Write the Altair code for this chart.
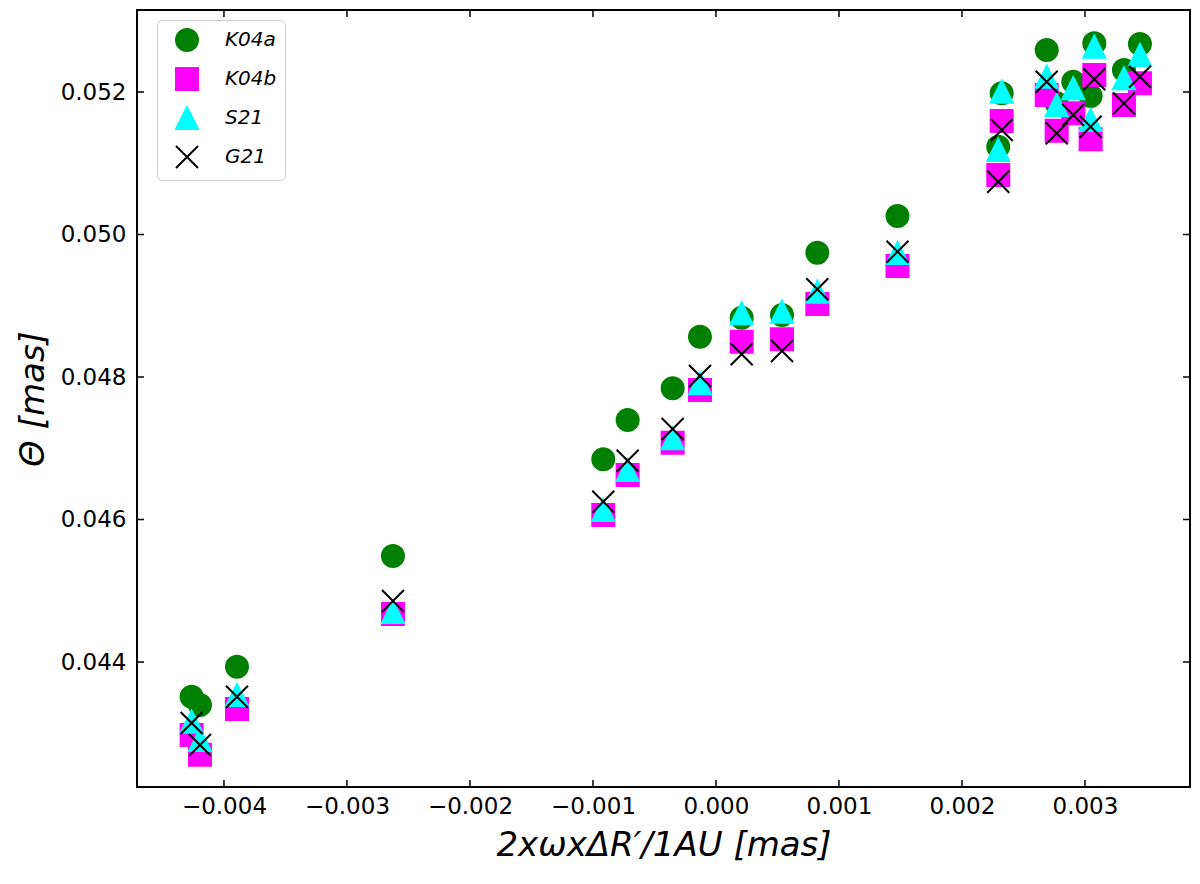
import altair as alt
import pandas as pd

# ---- data ----
series_names = ["K04a", "K04b", "S21", "G21"]

xs = [-0.004263, -0.004195, -0.003894, -0.002626, -0.000916, -0.000718, -0.000352,
      -0.000130, 0.000209, 0.000537, 0.000824, 0.001476, 0.002323, 0.002295,
      0.002689, 0.002770, 0.002905, 0.003076, 0.003046, 0.003317, 0.003447]

k04a = [0.043513, 0.043396, 0.043934, 0.045488, 0.046845, 0.047396, 0.047841,
        0.048566, 0.048832, 0.048870, 0.049745, 0.050260, 0.051982, 0.051232,
        0.052589, 0.051841, 0.052145, 0.052684, 0.051944, 0.052309, 0.052674]
k04b = [0.042975, 0.042699, 0.043340, 0.044674, 0.046063, 0.046625, 0.047078,
        0.047818, 0.048495, 0.048529, 0.049025, 0.049558, 0.051593, 0.050835,
        0.051958, 0.051457, 0.051701, 0.052239, 0.051336, 0.051818, 0.052122]
s21 = [0.043162, 0.042905, 0.043537, 0.044702, 0.046133, 0.046695, 0.047140,
       0.047911, 0.048894, 0.048916, 0.049197, 0.049740, 0.052005, 0.051186,
       0.052215, 0.051818, 0.052052, 0.052636, 0.051607, 0.052192, 0.052519]
g21 = [0.043144, 0.042835, 0.043513, 0.044856, 0.046250, 0.046825, 0.047270,
       0.048014, 0.048319, 0.048365, 0.049231, 0.049759, 0.051467, 0.050741,
       0.052145, 0.051420, 0.051677, 0.052178, 0.051513, 0.051841, 0.052215]

x_ticks = [-0.004, -0.003, -0.002, -0.001, 0.0, 0.001, 0.002, 0.003]
y_ticks = [0.044, 0.046, 0.048, 0.050, 0.052]

x_domain = [-0.004707, 0.003854]
y_domain = [0.042246, 0.053151]

X_TITLE = "2xωxΔR′/1AU [mas]"
Y_TITLE = "Θ [mas]"

rows = []
for name, vals in zip(series_names, [k04a, k04b, s21, g21]):
    for xv, yv in zip(xs, vals):
        rows.append({"x": xv, "y": yv, "series": name})
df = pd.DataFrame(rows)

W, H = 1053, 777
TL = 7  # tick length

xsc = alt.Scale(domain=x_domain, nice=False, zero=False)
ysc = alt.Scale(domain=y_domain, nice=False, zero=False)

x_axis = alt.Axis(values=x_ticks, format=".3f", title=X_TITLE, grid=False, ticks=False,
                  domain=False, labelFontSize=23, labelPadding=8, labelOverlap=False,
                  labelFlush=False, titleFontSize=34, titleFontStyle="italic",
                  titleFontWeight="normal", titlePadding=10)
y_axis = alt.Axis(values=y_ticks, format=".3f", title=Y_TITLE, grid=False, ticks=False,
                  domain=False, labelFontSize=23, labelPadding=11, labelOverlap=False,
                  labelFlush=False, titleFontSize=34, titleFontStyle="italic",
                  titleFontWeight="normal", titlePadding=10)

shapes = ["circle", "square", "M0,-1L-1,1L1,1Z", "M-1,-1L1,1M-1,1L1,-1"]
fills = ["#008000", "#ff00ff", "#00ffff", "transparent"]
strokes = ["#008000", "#ff00ff", "#00ffff", "#000000"]
sizes = [484, 484, 529, 441]

points = alt.Chart(df).mark_point(strokeWidth=2, opacity=1, fillOpacity=1).encode(
    x=alt.X("x:Q", scale=xsc, axis=x_axis),
    y=alt.Y("y:Q", scale=ysc, axis=y_axis),
    shape=alt.Shape("series:N", scale=alt.Scale(domain=series_names, range=shapes), title=None),
    fill=alt.Fill("series:N", scale=alt.Scale(domain=series_names, range=fills), title=None),
    stroke=alt.Stroke("series:N", scale=alt.Scale(domain=series_names, range=strokes), title=None),
    size=alt.Size("series:N", scale=alt.Scale(domain=series_names, range=sizes), title=None),
)

xt = pd.DataFrame({"x": x_ticks})
yt = pd.DataFrame({"y": y_ticks})

tick_style = dict(color="black", strokeWidth=1.5)
bx = alt.X("x:Q", scale=xsc, axis=x_axis)
by = alt.Y("y:Q", scale=ysc, axis=y_axis)

bottom_ticks = alt.Chart(xt).mark_rule(**tick_style).encode(
    x=bx, y=alt.value(H), y2=alt.value(H - TL))
top_ticks = alt.Chart(xt).mark_rule(**tick_style).encode(
    x=bx, y=alt.value(0), y2=alt.value(TL))
left_ticks = alt.Chart(yt).mark_rule(**tick_style).encode(
    y=by, x=alt.value(0), x2=alt.value(TL))
right_ticks = alt.Chart(yt).mark_rule(**tick_style).encode(
    y=by, x=alt.value(W - TL), x2=alt.value(W))

chart = alt.layer(bottom_ticks, top_ticks, left_ticks, right_ticks, points).properties(
    width=W, height=H,
    autosize=alt.AutoSizeParams(type="none"),
    padding={"left": 129, "top": 2, "right": 2, "bottom": 88},
    background="white",
).configure_view(
    stroke="black", strokeWidth=2
).configure_axis(
    labelFont="DejaVu Sans", titleFont="DejaVu Sans", labelColor="black", titleColor="black"
).configure_legend(
    orient="none", legendX=20, legendY=10,
    labelFont="DejaVu Sans", labelFontSize=20, labelFontStyle="italic", labelColor="black",
    symbolStrokeWidth=2, padding=8, rowPadding=9, symbolOffset=10, labelOffset=26,
    strokeColor="#cccccc", fillColor="white", cornerRadius=5,
)

chart.save("out.html", embed_options={"renderer": "svg", "actions": False})
